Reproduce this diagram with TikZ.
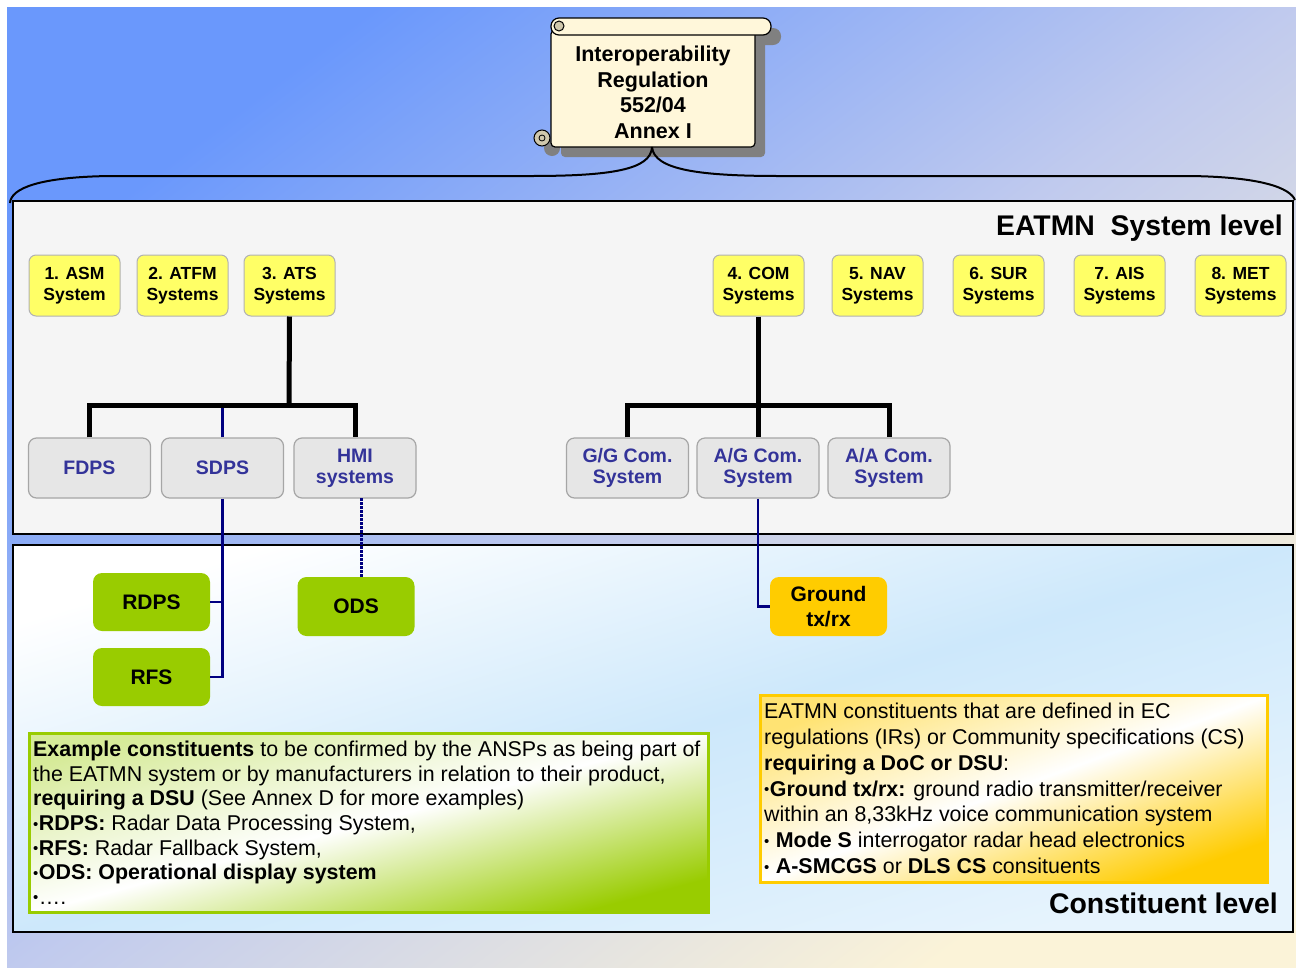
\documentclass[tikz,border=0pt]{standalone}
\usepackage{fontspec}
\setmainfont{Liberation Sans}
\definecolor{navy}{RGB}{0,0,128}
\definecolor{gtext}{RGB}{51,51,153}
\definecolor{ysys}{RGB}{255,255,102}
\definecolor{gfill}{RGB}{230,230,230}
\definecolor{grn}{RGB}{153,204,0}
\definecolor{org}{RGB}{255,204,0}
\definecolor{cream}{RGB}{255,247,218}
\definecolor{curl}{RGB}{208,200,172}
\definecolor{bgblue}{RGB}{106,152,252}
\definecolor{bgmid}{RGB}{192,202,238}
\definecolor{bgyel}{RGB}{251,243,216}
\definecolor{lblue}{RGB}{205,232,251}
\definecolor{panelgray}{RGB}{245,245,245}
\newcommand{\smbul}{\raisebox{1.5pt}{\fontsize{15}{15}\selectfont •}\kern0.5pt}
\begin{document}
\begin{tikzpicture}[x=1pt,y=-1pt,
  sysbox/.style={draw=black!30, fill=ysys, rounded corners=7pt, minimum width=91pt, minimum height=61pt, inner sep=0pt, align=center, font=\bfseries\fontsize{17.5}{21}\selectfont, line width=1pt, execute at begin node={\rule{0pt}{16.6pt}}},
  subbox/.style={draw=black!35, fill=gfill, rounded corners=8pt, minimum width=122pt, minimum height=60pt, inner sep=0pt, align=center, text=gtext, font=\bfseries\fontsize{19.5}{21}\selectfont, line width=1.2pt},
  twoline/.style={execute at begin node={\rule{0pt}{18.3pt}}},
  conbox/.style={fill=grn, rounded corners=9pt, minimum width=117pt, minimum height=58pt, inner sep=0pt, align=center, font=\bfseries\fontsize{21}{25}\selectfont},
  tree/.style={line width=5pt, line join=miter},
  navyline/.style={navy, line width=2.5pt},
  panel/.style={draw=black, line width=2.5pt},
  title/.style={font=\bfseries\fontsize{28.4}{30}\selectfont, inner sep=0pt},
  bodytext/.style={anchor=north west, inner sep=0pt, align=left},
]
\useasboundingbox (0,0) rectangle (1296,967);
% background
\shade[left color=bgblue, right color=bgyel, middle color=bgmid, shading angle=37] (7,7) rectangle (1296,967);
% panels
\filldraw[panel, fill=panelgray] (13,201) rectangle (1293,534);
\shade[left color=white, right color=white!50!lblue, middle color=lblue, shading angle=17] (13,545) rectangle (1293,932);
\draw[panel] (13,545) rectangle (1293,932);
% scroll shadow
\fill[black!50] (561,28) [rounded corners=8pt] rectangle (781,45);
\fill[black!50] (561,40) [rounded corners=4pt] rectangle (765,157);
\fill[black!50] (552,148) circle (8pt);
% scroll body
\draw[fill=cream, line width=1.2pt, rounded corners=4pt] (551,30) rectangle (755,147);
\draw[fill=cream, line width=1.2pt, rounded corners=8pt] (551,18) rectangle (771,35);
\draw[fill=curl, line width=1pt] (559,26) circle (5pt);
\draw[fill=curl, line width=1pt] (542,138) circle (8pt);
\draw[line width=0.8pt] (542,138) circle (3pt);
\node[font=\bfseries\fontsize{21.5}{25.7}\selectfont, align=center, inner sep=0pt] (reg) at (653,92.4) {Interoperability\\Regulation\\552/04\\Annex I};
\coordinate (regb) at (652,147);
% brace
\draw[line width=2pt] (regb) .. controls (651,170) and (610,176) .. (530,176) -- (110,176) .. controls (40,177) and (11,188) .. (10,203);
\draw[line width=2pt] (regb) .. controls (654,170) and (700,176) .. (780,176) -- (1190,176) .. controls (1262,177) and (1290,188) .. (1295,200);
% titles
\node[title, anchor=base east] (systitle) at (1283,235) {EATMN\ \ System level};
\node[title, anchor=base east] (contitle) at (1278,913) {Constituent level};
% system boxes
\node[sysbox] (asm) at (74.5,285.5) {1. ASM\\System};
\node[sysbox] (atfm) at (182.5,285.5) {2. ATFM\\Systems};
\node[sysbox] (ats) at (289.5,285.5) {3. ATS\\Systems};
\node[sysbox] (com) at (758.5,285.5) {4. COM\\Systems};
\node[sysbox] (nav) at (877.5,285.5) {5. NAV\\Systems};
\node[sysbox] (sur) at (998.5,285.5) {6. SUR\\Systems};
\node[sysbox] (ais) at (1119.5,285.5) {7. AIS\\Systems};
\node[sysbox] (met) at (1240.5,285.5) {8. MET\\Systems};
% sub boxes
\node[subbox] (fdps) at (89.5,468) {FDPS};
\node[subbox] (sdps) at (222.5,468) {SDPS};
\node[subbox, twoline] (hmi) at (355,468) {HMI\\systems};
\node[subbox, twoline] (gg) at (627.5,468) {G/G Com.\\System};
\node[subbox, twoline] (ag) at (758,468) {A/G Com.\\System};
\node[subbox, twoline] (aa) at (889,468) {A/A Com.\\System};
% constituents
\node[conbox] (rdps) at (151.5,602) {RDPS};
\node[conbox] (rfs) at (151.5,677) {RFS};
\node[conbox, minimum height=59pt] (ods) at (356,606.5) {ODS};
\node[conbox, fill=org, minimum height=59pt, font=\bfseries\fontsize{21}{25.5}\selectfont] (ground) at (828.5,606.5) {Ground\\tx/rx};
% trees
\coordinate (atsbar) at (289,405);
\coordinate (combar) at (758,405);
\draw[navyline] (sdps.north) -- (sdps.north |- atsbar);
\draw[tree] (ats.south) -- (atsbar);
\draw[tree] (fdps.north) -- (fdps.north |- atsbar) -- (hmi.north |- atsbar) -- (hmi.north);
\draw[tree] (com.south) -- (com.south |- combar);
\draw[tree] (gg.north) -- (gg.north |- combar) -- (aa.north |- combar) -- (aa.north);
\draw[tree] (ag.north) -- (ag.north |- combar);
% navy connectors
\draw[navyline] (sdps.south) -- (sdps.south |- rfs.east) -- (rfs.east);
\draw[navyline] (rdps.east) -- (rdps.east -| sdps.south);
\coordinate (hmid) at (361,498);
\draw[navy, line width=3pt, dash pattern=on 2.5pt off 1.5pt] (hmid) -- (hmid |- ods.north);
\draw[navyline] (ag.south) -- (ag.south |- ground.west) -- (ground.west);
% green text box
\shade[left color=grn!40, right color=grn, middle color=white, shading angle=15] (29,733) rectangle (708,912);
\draw[grn, line width=3pt] (29,733) rectangle (708,912);
\node[bodytext, font=\fontsize{21.4}{24.6}\selectfont] (gnote) at (33,741) {\textbf{Example constituents} to be confirmed by the ANSPs as being part of\\the EATMN system or by manufacturers in relation to their product,\\\textbf{requiring a DSU} (See Annex D for more examples)\\\smbul\textbf{RDPS:} Radar Data Processing System,\\\smbul\textbf{RFS:} Radar Fallback System,\\\smbul\textbf{ODS: Operational display system}\\\smbul….};
% orange text box
\shade[left color=org!55, right color=org, middle color=white, shading angle=20] (760,695) rectangle (1267,882);
\draw[org, line width=3pt] (760,695) rectangle (1267,882);
\node[bodytext, font=\fontsize{21.4}{25.8}\selectfont] (onote) at (764,703) {EATMN constituents that are defined in EC\\regulations (IRs) or Community specifications (CS)\\\textbf{requiring a DoC or DSU}:\\\smbul\textbf{Ground tx/rx:} ground radio transmitter/receiver\\within an 8,33kHz voice communication system\\\smbul\ \textbf{Mode S} interrogator radar head electronics\\\smbul\ \textbf{A-SMCGS} or \textbf{DLS CS} consituents};
\end{tikzpicture}
\end{document}
